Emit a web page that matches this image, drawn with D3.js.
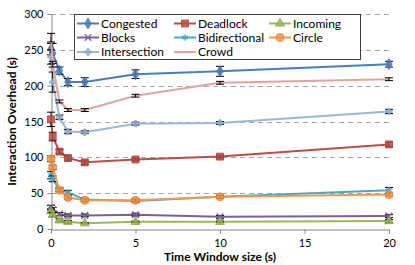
<!DOCTYPE html>
<html>
<head>
<meta charset="utf-8">
<script src="https://cdn.jsdelivr.net/npm/d3@7"></script>
<style>
  body { margin: 0; background: #fff; }
  svg text { font-family: Lato, "Open Sans", sans-serif; fill: #000; }
</style>
</head>
<body>
<svg id="chart" width="415" height="265"></svg>
<script>
// Tidsfönster (s)
const windows = [0, 0.1, 0.5, 1, 2, 5, 10, 20];
const seriesNames = ["Congested", "Blocks", "Intersection", "Deadlock", "Bidirectional", "Crowd", "Incoming", "Circle"];

const congested = [251, 245, 221, 205, 205, 216, 220, 230];
const congestedErr = [8, 14, 5, 5, 6, 6, 7, 4];
const blocks = [30, 27, 21, 19, 19, 20, 17, 18];
const blocksErr = [3, 3, 2, 2, 2, 2, 2, 2];
const intersection = [240, 205, 156, 136, 135, 147, 148, 164];
const intersectionErr = [10, 14, 3, 3, 2, 2, 2, 3];
const deadlock = [153, 129, 108, 99, 93, 97, 101, 118];
const deadlockErr = [10, 6, 3, 3, 3, 2, 2, 3];
const bidirectional = [75, 70, 55, 51, 41, 39, 45, 54];
const bidirectionalErr = [5, 4, 3, 3, 2, 2, 2, 4];
const crowd = [267, 230, 178, 166, 166, 186, 204, 209];
const crowdErr = [6, 4, 2, 2, 2, 2, 2, 2];
const incoming = [25, 20, 12, 10, 8, 10, 10, 11];
const incomingErr = [3, 3, 2, 2, 1, 1, 1, 2];
const circle = [98, 86, 54, 44, 40, 40, 45, 48];
const circleErr = [4, 3, 2, 2, 2, 2, 2, 2];

const xTicks = [0, 5, 10, 15, 20];
const yTicks = [0, 50, 100, 150, 200, 250, 300];

const values = [congested, blocks, intersection, deadlock, bidirectional, crowd, incoming, circle];
const errors = [congestedErr, blocksErr, intersectionErr, deadlockErr, bidirectionalErr, crowdErr, incomingErr, circleErr];
const colors = ["#4a7ebb", "#7d5fa0", "#9ab7dc", "#be4b48", "#46aac5", "#e2a3a2", "#98b954", "#f79646"];
const markers = ["diamond", "x", "plus", "square", "star", null, "triangle", "circle"];

const margin = { left: 51, right: 26, top: 14, bottom: 36 };
const W = 415, H = 265;

const svg = d3.select("#chart");
const x = d3.scaleLinear().domain([0, 20]).range([margin.left, W - margin.right]);
const y = d3.scaleLinear().domain([0, 300]).range([H - margin.bottom, margin.top]);

// Stödlinjer
svg.append("g")
  .selectAll("line")
  .data(yTicks.filter(t => t > 0))
  .join("line")
  .attr("x1", margin.left).attr("x2", W - margin.right)
  .attr("y1", d => Math.round(y(d)) + 0.5).attr("y2", d => Math.round(y(d)) + 0.5)
  .attr("stroke", "#a6a6a6")
  .attr("stroke-width", 1)
  .attr("stroke-dasharray", "5,4");

// Axlar
const xAxis = svg.append("g")
  .attr("transform", `translate(0,${Math.round(y(0)) + 0.5})`)
  .call(d3.axisBottom(x).tickValues(xTicks).tickSize(4).tickSizeOuter(0));
const yAxis = svg.append("g")
  .attr("transform", `translate(${Math.round(x(0)) + 0.5},0)`)
  .call(d3.axisLeft(y).tickValues(yTicks).tickSize(4).tickSizeOuter(0));

[xAxis, yAxis].forEach(ax => {
  ax.select(".domain").attr("stroke", "#868686");
  ax.selectAll(".tick line").attr("stroke", "#868686");
  ax.selectAll(".tick text").style("font-size", "11px").attr("fill", "#000");
});
xAxis.selectAll(".tick text").attr("dy", "0.95em");
yAxis.selectAll(".tick text").attr("x", -8);

svg.append("text")
  .attr("x", (margin.left + W - margin.right) / 2)
  .attr("y", 261)
  .attr("text-anchor", "middle")
  .style("font-size", "12px")
  .style("font-weight", "bold")
  .text("Time Window size (s)");

svg.append("text")
  .attr("transform", `translate(16,${(margin.top + H - margin.bottom) / 2}) rotate(-90)`)
  .attr("text-anchor", "middle")
  .style("font-size", "12px")
  .style("font-weight", "bold")
  .text("Interaction Overhead (s)");

// Markörer
function drawMarker(g, type, color, cx, cy) {
  if (!type) return;
  const sym = {
    diamond: d3.symbolDiamond, square: d3.symbolSquare, triangle: d3.symbolTriangle,
    circle: d3.symbolCircle, x: d3.symbolTimes, plus: d3.symbolCross, star: d3.symbolAsterisk
  }[type];
  const size = { diamond: 34, square: 48, triangle: 34, circle: 50, x: 30, plus: 22, star: 30 }[type];
  const p = g.append("path")
    .attr("d", d3.symbol(sym, size)())
    .attr("transform", `translate(${cx},${cy})`);
  if (type === "x" || type === "star") {
    p.attr("fill", "none").attr("stroke", color).attr("stroke-width", 1.3);
  } else {
    p.attr("fill", color).attr("fill-opacity", 0.85)
      .attr("stroke", d3.color(color).darker(0.4)).attr("stroke-width", 0.8);
  }
}

const line = d3.line().x(d => x(d[0])).y(d => y(d[1]));
const gSeries = svg.append("g");

values.forEach((vals, i) => {
  const pts = windows.map((w, j) => [w, vals[j]]);
  const g = gSeries.append("g");
  g.append("path")
    .attr("d", line(pts))
    .attr("fill", "none")
    .attr("stroke", colors[i])
    .attr("stroke-width", 2);

  // Felstaplar
  pts.forEach(([w, v], j) => {
    const e = errors[i][j];
    const cx = x(w);
    g.append("line")
      .attr("x1", cx).attr("x2", cx)
      .attr("y1", y(v - e)).attr("y2", y(v + e))
      .attr("stroke", "#000").attr("stroke-width", 1);
    [v - e, v + e].forEach(yy => {
      g.append("line")
        .attr("x1", cx - 4).attr("x2", cx + 4)
        .attr("y1", y(yy)).attr("y2", y(yy))
        .attr("stroke", "#000").attr("stroke-width", 1);
    });
    drawMarker(g, markers[i], colors[i], cx, y(v));
  });
});

// Förklaring
const legend = svg.append("g");
legend.append("rect")
  .attr("x", 74.5).attr("y", 14.5)
  .attr("width", 286).attr("height", 45)
  .attr("fill", "#fff")
  .attr("stroke", "#404040")
  .attr("stroke-width", 1);

const colX = [77, 174, 269];
const rowY = [23.5, 37.5, 52];
seriesNames.forEach((name, i) => {
  const cx = colX[Math.floor(i / 3)];
  const cy = rowY[i % 3];
  legend.append("line")
    .attr("x1", cx).attr("x2", cx + 22)
    .attr("y1", cy).attr("y2", cy)
    .attr("stroke", colors[i]).attr("stroke-width", 2);
  drawMarker(legend, markers[i], colors[i], cx + 11, cy);
  legend.append("text")
    .attr("x", cx + 24)
    .attr("y", cy)
    .attr("dy", "0.35em")
    .style("font-size", "12px")
    .text(name);
});
</script>
</body>
</html>
